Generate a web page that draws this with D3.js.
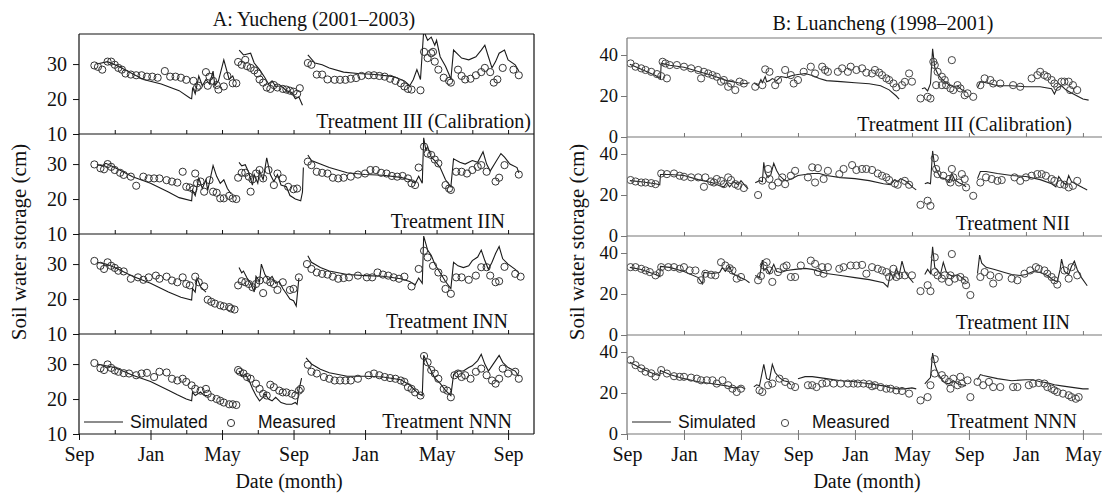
<!DOCTYPE html>
<html>
<head>
<meta charset="utf-8">
<title>Soil water storage - Yucheng and Luancheng</title>
<script src="https://cdn.jsdelivr.net/npm/d3@7/dist/d3.min.js"></script>
<style>
  body { margin: 0; background: #fff; }
  svg text { font-family: "Liberation Serif", "Times New Roman", serif; fill: #111; }
  svg .legend text { font-family: "Liberation Sans", Arial, sans-serif; }
</style>
</head>
<body>
<svg width="1102" height="498"></svg>
<script>
// x values are months counted from 1 September of the first season
const monthTicks = [0, 4, 8, 12, 16, 20, 24, 28, 32];
const monthLabels = ['Sep', 'Jan', 'May', 'Sep', 'Jan', 'May', 'Sep', 'Jan', 'May'];

const treatmentsA = ['Treatment III (Calibration)', 'Treatment IIN', 'Treatment INN', 'Treatment NNN'];
const treatmentsB = ['Treatment III (Calibration)', 'Treatment NII', 'Treatment IIN', 'Treatment NNN'];

// ---- A: Yucheng (2001-2003) ----
const simA1 = [
  [[1.0,30.0],[1.6,30.7],[2.2,29.4],[3.6,25.6],[4.6,24.3],[5.6,22.4],[6.2,20.3],[6.3,20.1],[6.36,23.3],[6.5,21.5],[6.7,26.6],[6.9,23.8],[7.1,25.6],[7.3,24.3],[7.5,28.0],[7.6,23.8],[7.8,25.2],[8.1,31.2],[8.4,25.6],[8.6,26.6],[8.7,25.2]],
  [[8.96,34.0],[9.2,32.6],[9.6,33.1],[9.8,30.3],[10.1,28.4],[10.4,26.1],[10.6,24.3],[10.8,25.2],[11.0,23.6],[11.3,23.8],[11.6,22.4],[11.9,21.9],[12.1,20.1],[12.3,20.6],[12.5,18.2]],
  [[12.8,32.6],[13.2,30.3],[13.6,29.8],[14.0,28.9],[14.8,27.7],[15.6,27.3],[16.6,27.0],[17.6,26.4],[18.2,25.2],[18.5,23.8],[18.7,25.6],[18.9,28.4],[19.1,25.6],[19.28,39.5],[19.5,36.8],[19.7,37.7],[19.9,35.4],[20.0,36.8],[20.2,32.1],[20.5,29.4],[20.7,27.0],[20.8,25.6],[20.95,34.0],[21.4,31.7],[21.8,31.2],[22.2,32.1],[22.5,34.0],[22.7,35.4],[22.9,32.1],[23.1,28.9],[23.3,30.7],[23.5,33.1],[23.8,34.0],[24.0,31.2],[24.4,29.8],[24.6,28.0]]
];
const obsA1 = [[0.86,29.6],[1.06,29.2],[1.3,28.4],[1.6,30.7],[1.8,30.7],[2.0,29.8],[2.2,28.9],[2.4,28.4],[2.6,27.3],[2.9,27.0],[3.2,26.8],[3.5,26.8],[3.8,26.4],[4.1,26.4],[4.4,26.1],[4.8,28.0],[5.1,26.4],[5.4,26.4],[5.7,26.1],[6.0,25.5],[6.4,25.2],[6.6,23.3],[6.7,23.8],[7.1,27.7],[7.2,23.8],[7.3,26.4],[7.5,25.2],[7.7,24.0],[7.8,22.7],[8.1,23.6],[8.3,26.6],[8.6,24.5],[8.8,24.5],
  [8.9,30.6],[9.1,29.8],[9.3,31.2],[9.4,29.4],[9.6,28.9],[9.8,28.2],[10.0,27.3],[10.1,25.6],[10.3,24.7],[10.5,23.3],[10.7,22.9],[10.9,24.0],[11.1,23.3],[11.4,22.9],[11.6,22.7],[11.8,22.4],[12.0,22.1],[12.2,21.5],[12.35,23.1],
  [12.8,30.3],[13.0,29.8],[13.3,27.0],[13.6,27.0],[13.9,25.6],[14.3,25.5],[14.6,25.5],[14.9,25.5],[15.2,25.8],[15.5,26.0],[15.8,26.6],[16.2,26.8],[16.5,26.8],[16.8,26.6],[17.1,26.4],[17.4,25.8],[17.7,25.2],[18.0,24.5],[18.2,23.6],[18.4,22.9],[18.6,22.7],[19.1,22.5],
  [19.3,33.5],[19.5,31.7],[19.7,33.1],[19.8,33.5],[19.9,30.7],[20.1,28.4],[20.4,26.1],[20.7,25.2],[20.8,24.7],[21.2,28.4],[21.4,26.6],[21.6,25.6],[21.9,25.8],[22.2,26.8],[22.5,27.7],[22.7,28.9],[23.0,27.7],[23.2,24.7],[23.4,25.6],[23.7,28.9],[24.3,28.4],[24.6,26.8]];

const simA2 = [
  [[1.0,29.9],[1.3,29.5],[1.5,30.2],[2.0,29.0],[3.0,26.4],[4.0,24.5],[5.0,22.0],[5.6,20.4],[6.3,19.5],[6.35,22.5],[6.5,21.0],[6.7,26.0],[6.9,23.0],[7.1,25.5],[7.2,22.5],[7.5,29.6],[7.7,26.5],[7.9,24.5],[8.1,25.5],[8.3,23.0],[8.5,21.5]],
  [[8.95,30.5],[9.1,29.5],[9.3,29.8],[9.5,27.5],[9.7,24.0],[9.8,27.0],[10.0,24.5],[10.1,28.0],[10.3,25.5],[10.5,31.8],[10.7,27.0],[10.9,25.0],[11.1,27.0],[11.3,24.0],[11.6,23.5],[11.8,21.0],[12.1,20.0],[12.4,19.5],[12.5,22.0],[12.55,29.0]],
  [[12.8,32.6],[13.0,31.0],[13.5,30.0],[14.0,29.0],[15.0,27.5],[16.0,27.0],[17.0,26.8],[18.0,26.2],[18.5,25.5],[18.8,24.5],[19.0,26.5],[19.2,24.5],[19.28,37.5],[19.4,34.0],[19.5,35.0],[19.7,32.0],[19.9,31.0],[20.2,29.0],[20.5,25.5],[20.8,23.5],[20.95,31.5],[21.3,30.5],[21.6,30.0],[22.0,31.0],[22.3,30.5],[22.6,33.5],[22.8,30.0],[23.0,28.0],[23.3,30.5],[23.6,33.0],[23.8,32.0],[24.1,30.0],[24.5,29.0],[24.6,27.5]]
];
const obsA2 = [[0.86,29.9],[1.2,28.8],[1.4,28.5],[1.6,30.0],[1.8,29.2],[2.0,28.3],[2.3,27.5],[2.5,26.9],[2.9,26.4],[3.2,23.8],[3.6,26.4],[3.9,25.9],[4.2,25.9],[4.5,25.9],[4.9,25.4],[5.2,25.0],[5.5,24.7],[5.8,27.8],[6.0,23.5],[6.2,23.3],[6.4,22.8],[6.5,27.3],[6.6,24.5],[6.8,25.0],[7.0,22.1],[7.3,25.4],[7.5,22.1],[7.7,21.8],[7.9,20.2],[8.1,20.2],[8.4,20.9],[8.6,20.2],[8.8,20.0],
  [8.9,26.1],[9.1,27.5],[9.3,27.5],[9.5,26.4],[9.6,22.1],[9.7,25.6],[9.9,27.3],[10.1,28.3],[10.3,25.9],[10.6,28.3],[10.9,24.0],[11.1,27.3],[11.4,25.9],[11.7,23.5],[12.0,22.8],[12.2,23.0],
  [12.8,30.7],[13.0,29.7],[13.3,27.8],[13.6,27.5],[13.9,27.3],[14.2,26.1],[14.5,25.9],[14.8,26.1],[15.2,26.4],[15.6,27.0],[16.0,27.3],[16.3,28.3],[16.6,28.3],[16.9,27.5],[17.2,27.3],[17.5,26.6],[17.8,26.4],[18.1,26.6],[18.4,25.9],[18.6,24.5],[18.8,24.0],[19.0,29.0],
  [19.3,35.0],[19.5,33.0],[19.7,32.6],[19.9,31.3],[20.1,30.2],[20.5,24.0],[20.7,23.0],[20.8,22.6],[21.1,27.8],[21.4,27.8],[21.7,27.3],[22.0,28.3],[22.3,29.2],[22.5,29.7],[22.8,27.8],[23.3,25.0],[23.5,26.1],[23.8,29.7],[24.6,27.0]];

const simA3 = [
  [[1.0,30.5],[1.5,30.0],[2.0,29.0],[3.0,26.5],[4.0,24.5],[5.0,22.0],[5.7,20.5],[6.3,19.7],[6.35,23.0],[6.5,22.0],[6.6,26.0],[6.8,23.5],[7.1,22.0]],
  [[8.95,29.0],[9.1,27.5],[9.2,28.0],[9.4,26.0],[9.6,24.5],[9.8,22.0],[9.9,26.5],[10.1,25.0],[10.2,30.0],[10.4,27.0],[10.6,25.5],[10.8,26.5],[11.0,24.5],[11.2,25.0],[11.4,23.0],[11.6,21.5],[11.8,20.0],[12.0,19.5],[12.15,18.0],[12.3,26.0]],
  [[12.8,32.4],[13.0,30.5],[13.5,29.0],[14.0,28.0],[15.0,27.0],[16.0,26.7],[17.0,26.5],[18.0,25.8],[18.5,25.0],[18.8,24.0],[19.0,26.0],[19.2,24.5],[19.28,38.0],[19.5,34.0],[19.7,32.5],[19.9,30.0],[20.2,27.5],[20.5,25.0],[20.8,23.0],[20.95,30.5],[21.2,29.5],[21.5,29.0],[21.8,29.5],[22.0,31.0],[22.3,32.0],[22.5,34.0],[22.7,31.0],[22.9,28.5],[23.1,30.5],[23.3,33.0],[23.5,35.0],[23.7,31.5],[24.0,30.0],[24.4,28.5],[24.6,27.5]]
];
const obsA3 = [[0.86,30.9],[1.2,29.5],[1.4,28.6],[1.6,30.5],[1.8,29.5],[2.0,28.9],[2.2,28.1],[2.5,27.9],[2.9,25.8],[3.3,26.2],[3.6,25.5],[3.9,26.2],[4.3,26.7],[4.5,25.8],[4.9,26.4],[5.2,25.3],[5.5,24.8],[5.8,26.2],[6.0,24.3],[6.2,23.9],[6.5,26.4],[6.7,24.8],[7.0,23.6],[7.2,19.8],[7.4,19.2],[7.6,18.7],[7.9,18.2],[8.1,17.9],[8.4,17.7],[8.5,17.3],[8.7,17.0],
  [8.9,23.9],[9.1,25.1],[9.3,24.8],[9.5,24.3],[9.7,23.4],[9.9,24.3],[10.1,25.3],[10.3,21.7],[10.5,25.5],[10.7,24.8],[10.9,24.3],[11.1,22.6],[11.4,24.8],[11.8,22.6],[12.0,22.9],[12.3,26.2],
  [12.75,30.0],[13.0,28.6],[13.3,27.6],[13.6,27.2],[13.9,27.0],[14.2,26.4],[14.5,25.8],[14.8,26.0],[15.1,26.2],[15.6,26.7],[16.1,26.2],[16.4,26.2],[16.7,27.6],[17.0,27.0],[17.3,26.7],[17.6,26.2],[17.9,25.8],[18.2,26.4],[18.6,23.6],[19.0,28.6],
  [19.3,33.8],[19.5,31.9],[19.8,29.5],[20.1,27.6],[20.4,25.8],[20.5,22.9],[20.8,21.5],[21.1,26.2],[21.4,26.2],[21.8,25.5],[22.2,26.7],[22.5,29.1],[22.8,29.1],[23.0,26.7],[23.3,24.8],[23.5,25.1],[23.8,29.2],[24.4,27.2],[24.7,26.4]];

const simA4 = [
  [[1.0,30.0],[1.5,29.5],[2.0,29.0],[3.0,26.8],[4.0,25.0],[5.0,22.5],[5.5,21.2],[6.0,20.0],[6.3,19.5],[6.35,22.0],[6.5,21.0],[6.8,22.0],[7.0,21.0],[7.2,21.0]],
  [[8.95,28.0],[9.1,26.5],[9.3,27.0],[9.5,25.5],[9.7,23.0],[9.9,21.0],[10.1,19.5],[10.3,20.5],[10.4,21.5],[10.6,20.0],[10.8,19.5],[11.0,20.5],[11.3,19.0],[11.6,18.5],[11.9,18.5],[12.1,19.0],[12.2,18.5],[12.3,22.5],[12.45,26.0]],
  [[12.7,31.8],[13.0,30.0],[13.5,28.5],[14.0,27.5],[15.0,26.5],[16.0,26.5],[17.0,26.3],[18.0,25.5],[18.5,24.0],[18.8,22.5],[19.0,21.5],[19.2,21.0],[19.28,32.5],[19.5,30.0],[19.7,28.0],[19.9,26.0],[20.2,24.5],[20.5,22.5],[20.8,21.0],[20.95,27.0],[21.2,28.0],[21.5,28.0],[21.8,29.0],[22.0,29.5],[22.3,31.0],[22.5,32.8],[22.7,30.0],[22.9,28.0],[23.1,29.5],[23.3,31.0],[23.5,32.5],[23.7,30.5],[24.0,29.0],[24.4,28.0],[24.6,26.5]]
];
const obsA4 = [[0.86,30.3],[1.2,28.8],[1.4,28.3],[1.6,29.9],[1.8,28.9],[2.0,28.2],[2.2,27.8],[2.5,27.4],[2.8,27.3],[3.2,26.8],[3.5,27.3],[3.8,27.5],[4.2,26.3],[4.5,27.8],[4.9,27.6],[5.2,25.8],[5.5,25.3],[5.8,25.8],[6.0,24.9],[6.3,23.9],[6.5,22.9],[6.8,22.4],[7.1,22.9],[7.2,21.5],[7.4,20.5],[7.7,20.0],[7.9,19.5],[8.1,19.0],[8.4,18.5],[8.6,18.5],[8.8,18.3],
  [8.9,28.3],[9.0,27.8],[9.2,27.3],[9.4,26.3],[9.6,25.8],[9.9,24.4],[10.1,22.9],[10.3,21.5],[10.5,21.0],[10.7,24.1],[10.9,23.4],[11.2,22.4],[11.4,21.9],[11.6,21.9],[11.9,21.5],[12.1,21.0],[12.3,22.4],[12.4,22.9],
  [12.8,29.8],[13.0,27.8],[13.3,27.3],[13.7,26.3],[14.0,25.8],[14.3,25.3],[14.6,25.3],[14.9,25.3],[15.2,25.3],[15.6,25.8],[16.2,26.8],[16.5,27.3],[16.8,26.8],[17.1,26.3],[17.4,26.0],[17.7,25.8],[18.0,25.3],[18.2,24.9],[18.4,23.4],[18.6,22.9],[18.8,21.9],[19.1,21.0],
  [19.3,32.3],[19.5,30.5],[19.7,28.3],[19.9,27.3],[20.1,25.8],[20.4,22.9],[20.6,22.4],[20.8,20.5],[21.0,26.8],[21.2,27.3],[21.4,26.3],[21.6,26.8],[21.9,25.8],[22.2,27.8],[22.5,28.7],[22.8,26.8],[23.1,25.3],[23.3,24.4],[23.5,25.8],[23.7,28.7],[24.0,27.3],[24.4,27.8],[24.6,25.8]];

// ---- B: Luancheng (1998-2001) ----
const simB1 = [
  [[0.2,35.5],[1.0,33.0],[2.0,30.0],[2.35,28.5],[2.4,36.0],[3.0,35.0],[4.0,34.0],[5.0,32.0],[6.0,30.0],[7.0,27.5],[7.8,26.5],[8.3,26.0],[8.6,26.5]],
  [[8.9,26.5],[9.2,25.0],[9.4,28.0],[9.5,26.5],[9.7,29.5],[9.8,27.0],[10.0,27.5],[10.2,28.5],[10.5,27.5],[10.8,29.5],[11.2,29.0],[11.6,30.0],[12.0,30.5],[12.5,31.0],[13.0,30.0],[13.5,28.5],[14.0,27.5],[15.0,27.0],[16.0,26.5],[17.0,26.0],[17.8,25.0],[18.4,23.0],[18.9,20.0],[19.1,18.5]],
  [[20.7,23.5],[20.9,24.0],[21.1,22.5],[21.3,26.0],[21.45,43.0],[21.6,34.0],[21.8,31.0],[22.0,29.0],[22.3,27.0],[22.6,25.5],[22.9,24.5],[23.2,25.0],[23.5,23.0],[23.8,22.0]],
  [[24.6,24.0],[24.8,27.0],[25.2,26.5],[26.0,25.0],[27.0,25.0],[28.0,24.5],[29.0,24.5],[29.8,23.5],[30.0,21.0],[30.2,24.0],[30.5,25.0],[30.8,23.0],[31.2,21.5],[31.6,20.0],[32.0,18.5],[32.4,18.0]]
];
const obsB1 = [[0.25,35.9],[0.6,34.3],[1.0,33.5],[1.3,32.7],[1.7,31.8],[2.1,30.7],[2.4,29.7],[2.8,28.6],[2.5,36.7],[2.7,35.9],[3.0,35.1],[3.5,35.1],[4.0,34.3],[4.5,33.5],[5.0,32.7],[5.2,28.6],[5.4,31.8],[5.7,31.0],[6.0,30.2],[6.3,29.4],[6.6,27.0],[6.8,27.8],[7.1,24.5],[7.3,26.1],[7.6,22.9],[7.9,27.0],[8.2,26.1],
  [9.0,24.5],[9.5,25.3],[9.7,33.0],[10.0,31.8],[10.4,25.3],[10.6,27.8],[11.1,32.7],[11.5,30.2],[11.7,26.1],[12.0,27.8],[12.4,31.8],[12.9,34.3],[13.2,31.0],[13.7,34.3],[13.9,32.7],[14.1,31.8],[14.8,31.8],[15.1,33.5],[15.5,31.8],[15.7,34.3],[16.1,32.7],[16.5,33.5],[16.8,31.4],[17.2,31.0],[17.4,32.7],[17.7,31.4],[17.9,30.2],[18.2,28.6],[18.4,27.8],[18.7,26.1],[18.9,24.2],[19.3,25.3],[19.5,26.9],[19.8,31.0],[20.0,27.0],
  [20.6,18.8],[21.1,19.6],[21.3,18.8],[21.5,36.7],[21.6,35.1],[21.7,25.3],[21.8,31.8],[22.1,29.4],[22.1,25.3],[22.3,27.8],[22.4,25.3],[22.7,23.7],[22.8,37.5],[22.9,22.9],[23.2,25.3],[23.4,23.7],[23.7,20.4],[23.9,21.3],[24.3,19.6],
  [24.8,25.3],[25.1,28.6],[25.5,27.8],[25.7,26.1],[26.2,26.1],[27.1,25.3],[27.6,24.5],[28.4,28.6],[28.8,30.2],[29.0,31.8],[29.3,30.2],[29.5,29.4],[29.8,27.8],[30.0,26.1],[30.2,24.5],[30.5,27.0],[30.7,27.0],[31.0,27.0],[31.1,22.9],[31.3,25.3],[31.6,22.9]];

const simB2 = [
  [[0.2,27.0],[1.0,26.5],[2.0,25.5],[2.3,25.0],[2.35,30.0],[3.0,30.0],[4.0,29.5],[5.0,27.5],[6.0,26.0],[6.5,24.5],[6.8,24.0],[7.0,26.0],[7.2,24.0],[7.5,26.5],[7.8,25.0],[8.0,27.0],[8.3,24.5],[8.5,23.0]],
  [[9.0,26.0],[9.3,27.0],[9.5,26.5],[9.6,36.0],[9.7,31.0],[9.9,28.5],[10.1,30.0],[10.3,35.5],[10.5,32.0],[10.7,29.5],[11.0,27.5],[11.2,27.0],[11.6,28.0],[12.0,29.5],[12.5,30.0],[13.0,30.5],[13.5,30.5],[14.0,29.5],[15.0,28.5],[16.0,28.0],[17.0,27.0],[18.0,25.5],[18.5,25.0],[18.8,27.5],[19.0,26.5],[19.2,28.0],[19.5,27.0],[19.8,25.5],[20.1,23.5],[20.3,22.5]],
  [[20.9,25.5],[21.1,26.0],[21.3,25.5],[21.45,41.5],[21.6,34.0],[21.8,31.0],[22.0,28.5],[22.3,28.0],[22.6,26.5],[22.8,30.5],[23.0,27.5],[23.3,26.0],[23.6,25.0],[23.8,24.0]],
  [[24.6,28.0],[24.8,31.5],[25.2,31.5],[26.0,30.5],[27.0,29.5],[28.0,29.0],[29.0,27.5],[29.8,25.5],[30.1,24.0],[30.3,29.0],[30.5,27.0],[30.8,25.0],[31.0,29.5],[31.2,26.5],[31.6,25.0],[32.0,23.5],[32.3,22.5]]
];
const obsB2 = [[0.25,27.3],[0.6,26.6],[1.0,26.1],[1.3,26.1],[1.7,25.8],[2.0,25.3],[2.4,30.5],[2.8,30.2],[3.3,30.5],[3.7,29.4],[4.0,28.9],[4.5,28.6],[5.0,28.6],[5.4,24.0],[5.5,28.6],[5.9,26.6],[6.1,26.1],[6.3,27.8],[6.6,26.9],[6.8,25.3],[7.1,28.6],[7.3,27.3],[7.6,25.3],[7.8,24.5],[8.2,23.4],
  [9.2,20.0],[9.5,27.0],[9.9,32.7],[10.0,27.8],[10.2,24.5],[10.6,26.1],[10.9,28.6],[11.1,25.3],[11.5,29.4],[11.8,31.8],[12.7,28.6],[13.0,33.5],[13.2,26.1],[13.4,33.1],[13.8,27.8],[14.1,31.8],[14.9,30.2],[15.2,32.7],[15.8,34.6],[16.1,32.2],[16.5,32.7],[16.8,32.7],[17.2,32.2],[17.6,30.5],[17.9,29.4],[18.2,28.6],[18.4,27.3],[18.8,25.6],[19.0,25.0],[19.5,26.9],[19.8,25.0],
  [20.6,15.2],[21.1,17.2],[21.3,14.7],[21.6,38.0],[21.7,32.7],[21.8,30.2],[22.2,29.4],[22.6,27.8],[22.7,26.1],[22.8,32.7],[22.9,28.6],[23.3,26.1],[23.5,30.2],[23.7,27.8],[23.8,23.7],[24.3,19.6],
  [24.8,26.1],[25.2,28.6],[25.6,27.8],[26.0,26.9],[26.3,27.3],[27.2,28.6],[27.6,26.9],[28.0,28.6],[28.4,29.4],[28.8,30.2],[29.1,30.2],[29.4,29.4],[29.8,27.8],[30.0,26.9],[30.4,25.3],[30.7,25.0],[31.0,23.7],[31.3,24.5],[31.6,26.9]];

const simB3 = [
  [[0.2,33.0],[1.0,32.0],[2.0,29.5],[2.3,28.5],[2.35,33.5],[3.0,33.0],[4.0,31.0],[5.0,28.0],[5.3,25.0],[5.4,30.5],[6.0,30.0],[6.5,30.5],[6.7,33.0],[6.9,31.0],[7.2,33.5],[7.4,30.0],[7.8,28.5],[8.3,27.0],[8.6,25.5]],
  [[9.0,29.0],[9.3,28.0],[9.5,36.5],[9.6,31.5],[9.8,32.5],[10.0,30.0],[10.3,34.5],[10.5,31.0],[10.8,30.5],[11.2,31.5],[11.8,32.0],[12.5,32.5],[13.0,32.0],[14.0,30.0],[15.0,29.0],[16.0,28.0],[17.0,27.0],[18.0,25.5],[18.3,23.5],[18.5,30.5],[18.7,27.5],[18.9,32.5],[19.1,29.0],[19.3,36.0],[19.5,31.0],[19.8,28.0],[20.1,25.5]],
  [[20.9,29.5],[21.1,32.0],[21.3,30.0],[21.45,43.0],[21.6,33.0],[21.8,31.5],[22.0,29.5],[22.2,35.5],[22.4,31.0],[22.6,29.5],[22.9,28.5],[23.2,29.5],[23.5,28.0],[23.8,26.5]],
  [[24.6,30.0],[24.75,39.0],[24.9,35.0],[25.2,33.0],[25.8,32.0],[26.5,30.5],[27.0,29.5],[27.6,29.0],[28.0,29.5],[28.5,31.0],[29.0,30.5],[29.5,29.0],[29.9,27.0],[30.2,26.0],[30.4,32.0],[30.5,37.0],[30.7,31.0],[31.0,29.5],[31.2,33.5],[31.4,36.0],[31.6,32.0],[31.9,28.0],[32.3,24.0]]
];
const obsB3 = [[0.25,33.1],[0.6,33.1],[1.0,32.3],[1.3,31.5],[1.6,30.7],[2.0,29.1],[2.3,30.4],[2.4,33.1],[2.9,33.1],[3.3,33.1],[3.7,32.3],[4.0,33.1],[4.4,31.5],[4.8,31.5],[5.2,26.7],[5.5,29.9],[5.9,29.4],[6.2,29.1],[6.6,35.5],[6.9,33.9],[7.2,32.6],[7.4,31.5],[7.7,27.5],[8.0,28.3],
  [9.2,26.7],[9.4,28.8],[9.6,33.9],[9.8,35.5],[10.0,31.5],[10.2,25.9],[10.6,30.7],[11.0,33.1],[11.2,33.9],[11.5,28.3],[11.8,28.3],[12.2,33.9],[12.9,36.3],[13.2,34.7],[13.4,30.7],[13.7,33.1],[13.8,29.9],[14.1,33.1],[14.9,32.3],[15.2,33.1],[15.7,33.9],[16.1,33.9],[16.5,34.2],[16.8,29.9],[17.2,33.1],[17.6,32.3],[17.9,31.5],[18.2,30.7],[18.4,28.3],[18.7,32.3],[18.9,28.3],[19.1,29.1],[19.5,29.1],[20.0,29.1],
  [20.6,21.4],[21.1,24.3],[21.3,21.4],[21.6,37.9],[21.6,30.7],[21.8,29.1],[22.1,27.5],[22.3,29.1],[22.6,25.9],[22.7,29.1],[22.8,39.5],[23.0,27.5],[23.4,28.3],[23.7,26.7],[23.8,24.3],[24.1,19.5],
  [24.8,28.3],[25.1,30.7],[25.5,29.1],[25.7,25.1],[26.1,28.3],[27.0,27.5],[27.4,26.7],[27.9,29.9],[28.3,31.5],[28.7,33.1],[28.9,32.3],[29.3,31.5],[29.5,29.9],[29.8,28.3],[30.0,26.7],[30.2,24.6],[30.7,31.5],[31.0,27.5],[31.2,33.1],[31.6,29.1]];

const simB4 = [
  [[0.2,35.0],[1.0,32.0],[2.0,29.0],[2.3,28.5],[2.35,31.0],[3.0,29.0],[4.0,27.0],[5.0,25.5],[6.0,24.5],[7.0,23.5],[7.5,22.5],[8.0,23.0],[8.3,22.0]],
  [[8.9,23.0],[9.1,24.0],[9.3,23.5],[9.6,34.0],[9.8,27.0],[10.0,26.5],[10.2,34.0],[10.4,30.0],[10.7,27.5],[11.0,26.0],[11.3,25.5],[11.5,24.0]],
  [[12.0,27.0],[12.5,28.0],[13.0,28.0],[14.0,27.0],[15.0,26.0],[16.0,25.5],[17.0,24.5],[18.0,23.5],[18.5,22.5],[19.0,22.0],[19.5,22.0],[20.0,22.5],[20.3,22.0]],
  [[20.9,24.5],[21.1,26.0],[21.3,27.5],[21.45,39.5],[21.6,34.0],[21.8,30.0],[22.0,27.5],[22.3,25.0],[22.6,24.5],[22.9,26.0],[23.2,24.5],[23.5,24.0],[23.8,23.5]],
  [[24.6,26.5],[24.8,29.0],[25.0,28.5],[26.0,27.0],[27.0,26.0],[28.0,26.5],[28.5,26.5],[29.0,25.5],[29.5,25.0],[30.0,24.0],[30.5,23.5],[31.0,23.0],[31.5,22.5],[32.0,22.0],[32.4,22.0]]
];
const obsB4 = [[0.25,36.1],[0.6,33.6],[1.0,32.0],[1.3,30.4],[1.7,29.6],[2.0,28.0],[2.4,31.2],[2.8,29.5],[3.3,28.2],[3.7,27.9],[4.0,27.9],[4.5,27.5],[4.9,27.0],[5.2,26.2],[5.6,26.2],[6.0,26.2],[6.3,24.6],[6.7,26.2],[7.1,23.8],[7.4,22.1],[7.7,20.5],[8.0,22.1],
  [9.3,21.3],[9.5,20.5],[9.9,23.8],[10.2,24.6],[10.7,27.0],[11.1,25.4],[11.5,23.8],[11.8,22.9],
  [12.7,23.8],[13.0,23.8],[13.3,22.9],[13.7,24.6],[14.0,24.9],[14.5,24.6],[15.0,24.6],[15.5,24.6],[15.9,24.6],[16.2,24.6],[16.6,24.6],[17.0,24.3],[17.2,23.3],[17.4,23.8],[17.8,22.9],[18.2,22.1],[18.5,22.1],[18.9,21.3],[19.3,21.0],[19.8,19.7],
  [20.6,16.4],[21.1,18.0],[21.3,23.8],[21.6,36.5],[21.6,29.5],[22.1,28.7],[22.3,27.0],[22.6,25.4],[22.7,22.1],[22.9,27.0],[23.2,23.8],[23.4,27.9],[23.5,24.6],[23.9,26.2],[24.1,18.0],
  [24.6,25.4],[25.0,23.8],[25.4,25.4],[25.7,22.9],[26.2,22.9],[27.1,22.9],[27.4,22.9],[28.2,23.8],[28.5,24.6],[28.9,24.9],[29.3,24.6],[29.5,22.9],[29.8,22.1],[30.0,21.3],[30.2,20.5],[30.6,19.7],[31.0,18.9],[31.2,18.0],[31.5,17.2],[31.7,18.0]];

const svg = d3.select('svg');

function drawChart(opt) {
  const x = d3.scaleLinear().domain(opt.xDomain).range([opt.left, opt.right]);
  const ph = (opt.bottom - opt.top) / opt.panels.length;
  const line = d3.line();
  const root = svg.append('g');

  opt.panels.forEach((p, i) => {
    const y0 = opt.top + i * ph, y1 = y0 + ph;
    const y = d3.scaleLinear().domain(opt.yDomain).range([y1, y0]);
    const g = root.append('g');
    const clipId = `clip-${opt.id}-${i}`;
    svg.append('defs').append('clipPath').attr('id', clipId)
      .append('rect').attr('x', opt.left).attr('y', y0).attr('width', opt.right - opt.left).attr('height', ph);

    const plot = g.append('g').attr('clip-path', `url(#${clipId})`);
    line.x(d => x(d[0])).y(d => y(d[1]));
    plot.selectAll('path.sim').data(p.sim).join('path')
      .attr('class', 'sim').attr('d', line)
      .attr('fill', 'none').attr('stroke', opt.lineColor).attr('stroke-width', 1.1);
    plot.selectAll('circle').data(p.obs).join('circle')
      .attr('cx', d => x(d[0])).attr('cy', d => y(d[1])).attr('r', 3.6)
      .attr('fill', 'none').attr('stroke', opt.dotColor).attr('stroke-width', 1);

    // y axis
    const ya = g.append('g').attr('transform', `translate(${opt.left},0)`)
      .call(d3.axisLeft(y).tickValues(opt.yTicks).tickSize(6).tickSizeOuter(0).tickPadding(opt.yPad));
    ya.select('.domain').remove();
    // inward ticks along bottom of every panel
    const xa = g.append('g').attr('transform', `translate(0,${y1})`)
      .call(d3.axisTop(x).tickValues(opt.innerTicks).tickSize(4).tickSizeOuter(0).tickFormat(''));
    xa.select('.domain').remove();
    [ya, xa].forEach(a => a.selectAll('line').attr('stroke', opt.axisColor));
    ya.selectAll('text').attr('font-size', opt.yFont).attr('font-family', '"Liberation Serif", serif').attr('fill', '#111');

    // panel separator / bottom line
    g.append('line').attr('x1', opt.left).attr('x2', opt.right).attr('y1', y1).attr('y2', y1)
      .attr('stroke', opt.axisColor).attr('stroke-width', 1.2);

    g.append('text').attr('x', opt.right - p.labelInset).attr('y', y1 - 6)
      .attr('text-anchor', 'end').attr('font-size', 20).text(p.name);
  });

  // frame
  root.append('line').attr('x1', opt.left).attr('x2', opt.left).attr('y1', opt.top).attr('y2', opt.bottom)
    .attr('stroke', opt.axisColor).attr('stroke-width', 1.2);
  root.append('line').attr('x1', opt.left).attr('x2', opt.right).attr('y1', opt.top).attr('y2', opt.top)
    .attr('stroke', opt.axisColor).attr('stroke-width', 1.2);
  root.append('line').attr('x1', opt.right).attr('x2', opt.right).attr('y1', opt.top).attr('y2', opt.bottom)
    .attr('stroke', opt.axisColor).attr('stroke-width', 1.2);

  // bottom axis with month labels
  const xb = root.append('g').attr('transform', `translate(0,${opt.bottom})`)
    .call(d3.axisBottom(x).tickValues(opt.labelTicks).tickSize(6).tickSizeOuter(0).tickPadding(7)
      .tickFormat((d, i) => monthLabels[i]));
  xb.select('.domain').remove();
  xb.selectAll('line').attr('stroke', opt.axisColor);
  xb.selectAll('text').attr('font-size', 20).attr('font-family', '"Liberation Serif", serif').attr('fill', '#111');

  // titles
  root.append('text').attr('x', opt.titleX).attr('y', opt.top - 8)
    .attr('text-anchor', 'middle').attr('font-size', 20).text(opt.title);
  root.append('text').attr('x', opt.dateX).attr('y', opt.bottom + 54)
    .attr('text-anchor', 'middle').attr('font-size', 20).text('Date (month)');
  root.append('text').attr('transform', `translate(${opt.left - opt.yTitleGap},242) rotate(-90)`)
    .attr('text-anchor', 'middle').attr('font-size', 21).text('Soil water storage (cm)');

  // legend in the last panel
  const ly = opt.bottom - 12;
  const lg = root.append('g').attr('class', 'legend');
  lg.append('line').attr('x1', opt.left + 5).attr('x2', opt.left + 44).attr('y1', ly).attr('y2', ly)
    .attr('stroke', opt.lineColor).attr('stroke-width', 1.1);
  lg.append('text').attr('x', opt.left + 51).attr('y', ly + 6).attr('font-size', 17.5).text('Simulated');
  lg.append('circle').attr('cx', opt.left + opt.legendDot).attr('cy', ly + 1).attr('r', 3.6)
    .attr('fill', 'none').attr('stroke', opt.dotColor);
  lg.append('text').attr('x', opt.left + opt.legendDot + 27).attr('y', ly + 6).attr('font-size', 17.5).text('Measured');
}

drawChart({
  id: 'A', title: 'A: Yucheng (2001\u20132003)', titleX: 314, dateX: 289,
  left: 79, right: 534, top: 34, bottom: 434,
  xDomain: [0, 25.45], yDomain: [10, 38.6], yTicks: [10, 20, 30], yPad: 6, yFont: 20,
  innerTicks: d3.range(2, 26, 2), labelTicks: monthTicks.slice(0, 7),
  axisColor: '#111', lineColor: '#1a1a1a', dotColor: '#333', yTitleGap: 53, legendDot: 152,
  panels: [
    { name: treatmentsA[0], sim: simA1, obs: obsA1, labelInset: 3 },
    { name: treatmentsA[1], sim: simA2, obs: obsA2, labelInset: 29 },
    { name: treatmentsA[2], sim: simA3, obs: obsA3, labelInset: 26 },
    { name: treatmentsA[3], sim: simA4, obs: obsA4, labelInset: 22 }
  ]
});

drawChart({
  id: 'B', title: 'B: Luancheng (1998\u20132001)', titleX: 883, dateX: 867,
  left: 627, right: 1110, top: 38, bottom: 434,
  xDomain: [0, 33.9], yDomain: [0, 48.3], yTicks: [0, 20, 40], yPad: 3, yFont: 18.5,
  innerTicks: monthTicks.slice(1), labelTicks: monthTicks,
  axisColor: '#777', lineColor: '#222', dotColor: '#444', yTitleGap: 43, legendDot: 158,
  panels: [
    { name: treatmentsB[0], sim: simB1, obs: obsB1, labelInset: 38 },
    { name: treatmentsB[1], sim: simB2, obs: obsB2, labelInset: 40 },
    { name: treatmentsB[2], sim: simB3, obs: obsB3, labelInset: 40 },
    { name: treatmentsB[3], sim: simB4, obs: obsB4, labelInset: 33 }
  ]
});
</script>
</body>
</html>
